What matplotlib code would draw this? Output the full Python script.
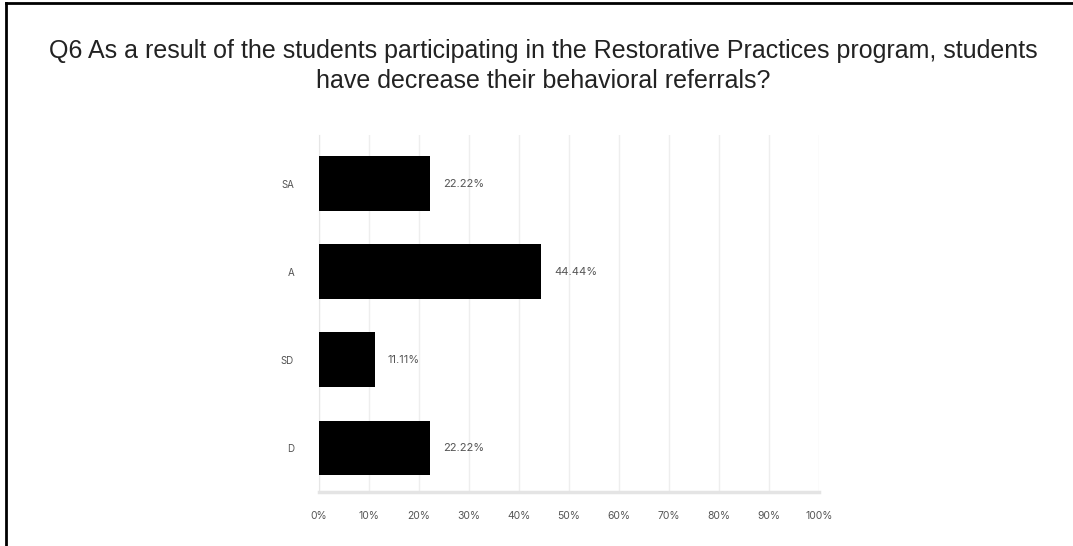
import matplotlib
matplotlib.use("Agg")
import matplotlib.pyplot as plt
from matplotlib.lines import Line2D

# survey answers, top to bottom
categories = ["SA", "A", "SD", "D"]
percent = [22.22, 44.44, 11.11, 22.22]
tick_vals = [0, 10, 20, 30, 40, 50, 60, 70, 80, 90, 100]
tick_labels = ["0%", "10%", "20%", "30%", "40%", "50%", "60%", "70%", "80%", "90%", "100%"]

title = ("Q6 As a result of the students participating in the Restorative Practices program, students\n"
         "have decrease their behavioral referrals?")

plt.rcParams["font.family"] = ["Liberation Sans", "DejaVu Sans"]

fig = plt.figure(figsize=(10.73, 5.46), dpi=100)
ax = fig.add_axes([0.2973, 0.0989, 0.466, 0.6538])

ypos = list(range(len(categories)))
ax.barh(ypos, percent, height=0.62, color="black", zorder=3)
for y, v in zip(ypos, percent):
    ax.text(v + 2.6, y, f"{v:.2f}%", va="center", ha="left", fontsize=8,
            color="#555555", family="Inter")

ax.set_xlim(0, 100)
ax.set_ylim(3.5, -0.55)
ax.set_xticks(tick_vals)
ax.set_xticklabels(tick_labels, fontsize=7.5, color="#555555", family="Inter")
ax.set_yticks(ypos)
ax.set_yticklabels(categories, fontsize=7, color="#555555", family="Inter")
ax.tick_params(length=0, pad=14, axis="x")
ax.tick_params(length=0, pad=18, axis="y")
ax.grid(axis="x", color="#eeeeee", linewidth=1, zorder=0)

for s in ["top", "right"]:
    ax.spines[s].set_visible(False)
ax.spines["left"].set_color("#e6e6e6")
ax.spines["bottom"].set_color("#e4e4e4")
ax.spines["bottom"].set_linewidth(2.5)

fig.text(0.506, 0.879, title, ha="center", va="center", fontsize=18,
         color="#222222", linespacing=1.3)

# frame lines on the left and top edges
fig.add_artist(Line2D([0.0055, 0.0055], [0, 0.995], transform=fig.transFigure,
                      color="black", linewidth=2))
fig.add_artist(Line2D([0.0055, 1], [0.995, 0.995], transform=fig.transFigure,
                      color="black", linewidth=2))

fig.savefig("out.png", dpi=100, facecolor="white")
